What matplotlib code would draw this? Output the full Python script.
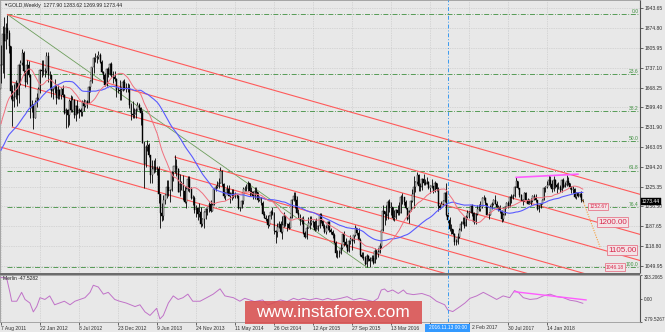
import numpy as np
import pandas as pd
import matplotlib
matplotlib.use("Agg")
import matplotlib.pyplot as plt
import matplotlib.transforms as mtransforms
from matplotlib.patches import Rectangle

plt.rcParams['font.family'] = ['Liberation Sans', 'DejaVu Sans']

# GOLD weekly bars, week of 7 Aug 2011 ... week of 17 Jun 2018 (bar 0 .. 358)
closes = [
    # 2011
    1745, 1852, 1828, 1876, 1856, 1813, 1657, 1622, 1635, 1683, 1642, 1745, 1753, 1788, 1724, 1687,
    1746, 1713, 1598, 1606, 1564,
    # 2012
    1617, 1631, 1663, 1728, 1725, 1725, 1725, 1776, 1710, 1712, 1656, 1662, 1669, 1631, 1660, 1642,
    1663, 1643, 1580, 1592, 1573, 1623, 1590, 1626, 1572, 1604, 1580, 1592, 1584, 1618, 1605, 1620,
    1616, 1671, 1692, 1740, 1771, 1773, 1774, 1780, 1758, 1722, 1711, 1676, 1731, 1714, 1751, 1712,
    1704, 1696, 1659, 1658, 1656,
    # 2013
    1661, 1688, 1664, 1668, 1667, 1608, 1578, 1572, 1576, 1592, 1606, 1597, 1581, 1477, 1405, 1462,
    1469, 1434, 1365, 1386, 1393, 1383, 1387, 1298, 1234, 1223, 1277, 1296, 1322, 1310, 1313, 1376,
    1395, 1396, 1386, 1308, 1333, 1337, 1310, 1272, 1315, 1351, 1315, 1287, 1287, 1244, 1250, 1230,
    1237, 1196, 1214, 1237,
    # 2014
    1247, 1254, 1264, 1240, 1262, 1318, 1323, 1326, 1338, 1379, 1335, 1294, 1303, 1318, 1294, 1300,
    1302, 1290, 1293, 1292, 1251, 1252, 1274, 1316, 1317, 1317, 1337, 1310, 1307, 1293, 1310, 1305,
    1280, 1287, 1268, 1229, 1216, 1214, 1192, 1222, 1238, 1231, 1171, 1169, 1185, 1197, 1167, 1191,
    1222, 1196, 1195, 1183,
    # 2015
    1216, 1277, 1293, 1279, 1234, 1228, 1205, 1213, 1165, 1152, 1183, 1199, 1200, 1207, 1203, 1175,
    1179, 1188, 1225, 1205, 1189, 1169, 1180, 1201, 1173, 1168, 1157, 1131, 1096, 1095, 1094, 1113,
    1160, 1134, 1121, 1103, 1138, 1145, 1137, 1156, 1182, 1163, 1141, 1088, 1081, 1076, 1057, 1086,
    1075, 1066, 1076, 1061,
    # 2016
    1102, 1090, 1097, 1118, 1174, 1239, 1230, 1222, 1271, 1250, 1254, 1217, 1221, 1243, 1235, 1232,
    1290, 1290, 1272, 1252, 1212, 1242, 1275, 1298, 1322, 1340, 1366, 1327, 1322, 1351, 1336, 1335,
    1341, 1320, 1326, 1328, 1310, 1339, 1315, 1257, 1251, 1266, 1275, 1304, 1225, 1209, 1178, 1177,
    1161, 1133, 1132, 1151,
    # 2017
    1173, 1197, 1204, 1190, 1220, 1234, 1238, 1257, 1234, 1202, 1229, 1248, 1249, 1254, 1287, 1284,
    1268, 1228, 1228, 1253, 1266, 1279, 1266, 1254, 1256, 1242, 1212, 1228, 1255, 1268, 1258, 1289,
    1285, 1291, 1325, 1346, 1320, 1297, 1280, 1275, 1304, 1280, 1266, 1269, 1275, 1294, 1287, 1280,
    1248, 1257, 1266, 1280, 1320,
    # 2018
    1322, 1332, 1349, 1333, 1315, 1347, 1330, 1323, 1323, 1313, 1347, 1325, 1332, 1345, 1336, 1323,
    1314, 1318, 1290, 1302, 1294, 1298, 1278, 1273.44,
]
highs = [
    1815, 1881, 1912, 1890, 1921, 1868, 1813, 1676, 1681, 1695, 1683, 1749, 1764, 1803, 1796, 1725,
    1763, 1761, 1716, 1625, 1612,
    1626, 1648, 1670, 1731, 1764, 1763, 1737, 1790, 1792, 1725, 1713, 1668, 1697, 1680, 1677, 1662,
    1667, 1677, 1647, 1597, 1595, 1628, 1641, 1640, 1628, 1607, 1625, 1598, 1599, 1625, 1627, 1624,
    1625, 1675, 1693, 1741, 1773, 1788, 1780, 1796, 1787, 1762, 1727, 1720, 1736, 1738, 1753, 1755,
    1724, 1724, 1700, 1671, 1694,
    1669, 1694, 1697, 1685, 1684, 1679, 1616, 1620, 1597, 1597, 1617, 1615, 1600, 1591, 1484, 1470,
    1488, 1477, 1435, 1416, 1418, 1424, 1397, 1397, 1297, 1268, 1297, 1298, 1348, 1347, 1317, 1380,
    1397, 1434, 1420, 1388, 1370, 1345, 1364, 1328, 1326, 1362, 1362, 1322, 1296, 1294, 1262, 1253,
    1268, 1255, 1216, 1239,
    1250, 1256, 1272, 1279, 1268, 1320, 1332, 1345, 1355, 1392, 1384, 1339, 1307, 1332, 1331, 1305,
    1315, 1315, 1306, 1298, 1295, 1256, 1277, 1325, 1326, 1333, 1345, 1339, 1325, 1310, 1322, 1322,
    1306, 1293, 1288, 1276, 1240, 1227, 1226, 1227, 1243, 1255, 1236, 1176, 1199, 1207, 1205, 1222,
    1238, 1225, 1200, 1201,
    1224, 1282, 1307, 1305, 1292, 1249, 1231, 1219, 1223, 1170, 1188, 1219, 1224, 1224, 1209, 1208,
    1215, 1193, 1232, 1232, 1210, 1196, 1192, 1205, 1205, 1180, 1175, 1165, 1135, 1104, 1105, 1126,
    1162, 1170, 1147, 1126, 1141, 1157, 1147, 1157, 1191, 1180, 1180, 1146, 1098, 1097, 1083, 1090,
    1088, 1080, 1088, 1087,
    1112, 1110, 1111, 1128, 1175, 1263, 1240, 1261, 1280, 1283, 1270, 1255, 1245, 1248, 1262, 1270,
    1296, 1304, 1279, 1280, 1252, 1244, 1277, 1316, 1362, 1345, 1375, 1369, 1338, 1354, 1367, 1352,
    1358, 1346, 1331, 1352, 1328, 1343, 1338, 1322, 1265, 1275, 1277, 1308, 1338, 1236, 1218, 1195,
    1178, 1165, 1142, 1163,
    1181, 1207, 1219, 1218, 1225, 1244, 1242, 1260, 1264, 1236, 1232, 1261, 1264, 1274, 1290, 1296,
    1290, 1268, 1236, 1263, 1270, 1282, 1296, 1276, 1261, 1260, 1244, 1235, 1257, 1270, 1274, 1292,
    1300, 1300, 1326, 1357, 1346, 1321, 1300, 1283, 1306, 1306, 1286, 1283, 1286, 1296, 1298, 1299,
    1278, 1260, 1268, 1283, 1322,
    1326, 1344, 1366, 1361, 1349, 1362, 1352, 1338, 1340, 1329, 1351, 1356, 1341, 1365, 1357, 1339,
    1326, 1326, 1320, 1307, 1308, 1303, 1309, 1283.62,
]
lows = [
    1683, 1720, 1702, 1801, 1838, 1787, 1628, 1535, 1600, 1630, 1603, 1616, 1676, 1746, 1713, 1670,
    1680, 1703, 1562, 1585, 1523,
    1562, 1602, 1625, 1648, 1705, 1710, 1703, 1720, 1688, 1664, 1634, 1627, 1650, 1612, 1628, 1627,
    1628, 1635, 1576, 1527, 1532, 1540, 1583, 1583, 1562, 1551, 1576, 1564, 1571, 1568, 1586, 1600,
    1598, 1614, 1653, 1685, 1720, 1755, 1752, 1768, 1752, 1720, 1696, 1672, 1672, 1706, 1710, 1704,
    1684, 1692, 1635, 1650, 1626,
    1626, 1655, 1660, 1651, 1654, 1597, 1554, 1563, 1562, 1563, 1589, 1590, 1539, 1476, 1321, 1394,
    1449, 1428, 1338, 1337, 1372, 1375, 1366, 1269, 1180, 1207, 1208, 1265, 1284, 1292, 1270, 1309,
    1346, 1371, 1361, 1306, 1292, 1312, 1277, 1267, 1251, 1309, 1305, 1281, 1261, 1232, 1221, 1211,
    1221, 1185, 1190, 1182,
    1212, 1225, 1236, 1238, 1239, 1260, 1309, 1320, 1321, 1338, 1326, 1287, 1277, 1298, 1291, 1268,
    1277, 1286, 1284, 1285, 1247, 1240, 1251, 1266, 1309, 1311, 1309, 1293, 1300, 1281, 1281, 1301,
    1273, 1275, 1262, 1228, 1216, 1207, 1183, 1190, 1213, 1228, 1161, 1131, 1150, 1180, 1163, 1142,
    1186, 1187, 1171, 1178,
    1180, 1215, 1275, 1251, 1232, 1216, 1191, 1194, 1162, 1147, 1142, 1181, 1178, 1191, 1185, 1170,
    1175, 1170, 1182, 1200, 1180, 1163, 1162, 1175, 1168, 1161, 1147, 1130, 1080, 1077, 1080, 1093,
    1109, 1118, 1117, 1098, 1098, 1125, 1104, 1128, 1155, 1158, 1140, 1084, 1077, 1071, 1052, 1046,
    1066, 1047, 1067, 1058,
    1061, 1073, 1080, 1096, 1111, 1171, 1191, 1208, 1214, 1236, 1226, 1210, 1207, 1212, 1226, 1228,
    1233, 1265, 1262, 1248, 1208, 1200, 1241, 1270, 1250, 1307, 1335, 1310, 1310, 1313, 1331, 1330,
    1334, 1318, 1302, 1320, 1302, 1306, 1309, 1241, 1247, 1253, 1262, 1271, 1224, 1200, 1172, 1160,
    1157, 1122, 1124, 1127,
    1146, 1172, 1195, 1180, 1189, 1215, 1217, 1232, 1224, 1195, 1196, 1227, 1240, 1240, 1250, 1277,
    1260, 1226, 1214, 1227, 1247, 1260, 1264, 1250, 1242, 1235, 1204, 1205, 1226, 1252, 1250, 1255,
    1267, 1281, 1288, 1324, 1315, 1289, 1276, 1261, 1274, 1278, 1264, 1264, 1263, 1272, 1278, 1272,
    1244, 1236, 1252, 1266, 1279,
    1307, 1319, 1332, 1323, 1307, 1310, 1321, 1302, 1316, 1307, 1306, 1321, 1322, 1326, 1330, 1316,
    1302, 1304, 1285, 1282, 1289, 1290, 1272, 1269.99,
]
first_open = 1663.0
# closes Aug 2010 - Jul 2011, only feed the moving averages
prev_closes = [
    1215, 1227, 1237, 1248, 1246, 1275, 1297, 1317, 1345, 1368, 1328, 1350, 1393, 1368, 1353, 1362,
    1405, 1385, 1376, 1380, 1421, 1369, 1360, 1342, 1341, 1349, 1361, 1389, 1409, 1429, 1421, 1417,
    1428, 1429, 1474, 1486, 1504, 1556, 1490, 1493, 1512, 1537, 1542, 1530, 1539, 1500, 1483, 1542,
    1594, 1601, 1624, 1663,
]

date_ticks = [0, 24, 48, 72, 96, 120, 144, 168, 192, 216, 240, 264, 288, 312, 336]
# labels at 264 and 288 are mostly hidden by the highlighted cursor time
date_labels = ["7 Aug 2011", "22 Jan 2012", "8 Jul 2012", "23 Dec 2012", "9 Jun 2013",
               "24 Nov 2013", "11 May 2014", "26 Oct 2014", "12 Apr 2015", "27 Sep 2015",
               "13 Mar 2016", "", "", "30 Jul 2017", "14 Jan 2018"]
partial_label = "2 Feb 2017"
price_ticks = [1943.65, 1874.80, 1805.95, 1737.10, 1668.25, 1599.40, 1531.90, 1463.05,
               1394.20, 1325.35, 1256.50, 1187.65, 1118.80, 1049.95]

fib_levels = [0.0, 23.6, 38.2, 50.0, 61.8, 76.4, 100.0]
fib_high, fib_high_bar = 1921.15, 4
fib_low, fib_low_bar = 1046.18, 225

# parallel red channel lines: start bar, start price, common slope ($ per week)
chan_bar = [4, 16, 7, 7, -1, 107]
chan_price = [1921, 1763, 1687, 1531, 1463, 1427]
chan_slope = -1.6

# Merlin oscillator (bar, value)
merlin_bar = [0, 3.5, 5.5, 6.6, 9.7, 12.7, 14.8, 17.8, 19.9, 22, 24, 27, 30, 33, 36, 39, 42.5,
              45.5, 48.6, 51.7, 54.8, 56.8, 59.9, 63, 66, 70, 73, 77, 82.5, 85.5, 88.6, 91.7,
              95.8, 97.8, 99.9, 103, 106, 109, 112, 115, 118, 122.5, 126.6, 130.6, 134.8, 137.8,
              143, 147, 150, 153, 156, 161, 164, 167, 172, 176, 180, 183, 186, 190, 194, 198,
              201, 204, 209, 213, 217, 221, 225, 229, 232, 234, 236, 238, 241, 244.5, 247.6,
              249.7, 253.7, 259, 264, 268, 273, 275, 278, 282.5, 285.5, 288.6, 292.7, 296.8,
              301, 305, 309, 313, 316, 318.3, 321.4, 325.5, 329.7, 333.7, 337.8, 342, 346, 350,
              354, 358]
merlin_val = [273, 264, 88, -22, -22, 88, 0, -44, -154, -88, 22, 0, 44, -66, -44, -22, -66,
              -22, 0, 22, 88, 176, 154, 66, 88, 0, -22, -44, -88, -66, -154, -198,
              -110, -242, -198, -44, 44, 0, 22, 66, -22, -22, 22, 66, 132, 44,
              22, -22, 14, -6, -27, -6, -69, -48, -6, -27, 14, -6, 14, -6, 14, -6,
              14, -6, 14, 35, -6, 14, -6, -27, 14, 117, 130, 95, 117, 74, 117,
              74, 60, 74, 40, -22, -66, -131, -150, -88, -44, 14, 44, 88,
              44, 0, 44, 22, 110, 88, 22, 0, 9, 44, 66, 35, 22, -9,
              -22, -47.53]

W, H = 665, 332
BG = '#e8e8e8'
GRID = '#c2c2c2'


def fy(py):
    return 1 - py / H


c = np.array(closes, dtype=float)
hi = np.array(highs, dtype=float)
lo = np.array(lows, dtype=float)
o = np.array([first_open] + closes[:-1], dtype=float)
x = np.arange(len(c))

allc = pd.Series(prev_closes + closes, dtype=float)
blue_ma = allc.rolling(45).mean().iloc[len(prev_closes):].values
red_ma = allc.rolling(20).mean().iloc[len(prev_closes):].values

fig = plt.figure(figsize=(W / 100, H / 100), dpi=100, facecolor=BG)
ax = fig.add_axes([0, fy(272.5), 640 / W, 272.5 / H], facecolor=BG)
ax2 = fig.add_axes([0, fy(322), 640 / W, 47 / H], facecolor=BG, sharex=ax)

xmin, xmax = -0.6, 393.2
ax.set_xlim(xmin, xmax)
ax.set_ylim(1943.65 - 264.5 / 0.2887, 1943.65 + 8 / 0.2887)
ax2.set_ylim(-279.5267, 303.2065)

for a in (ax, ax2):
    for s in a.spines.values():
        s.set_color('#9a9a9a')
        s.set_linewidth(0.6)
    a.spines['right'].set_color('#505050')
    a.spines['right'].set_linewidth(0.8)
    a.set_xticks(date_ticks)
    a.grid(True, axis='x', color=GRID, linestyle=(0, (1, 1.5)), linewidth=0.5)
    a.set_axisbelow(True)

ax.set_yticks(price_ticks)
ax.set_yticklabels(["%.2f" % p for p in price_ticks])
ax.yaxis.tick_right()
ax.tick_params(axis='y', length=2, width=0.5, pad=1.5, labelsize=3.6, colors='#303030')
ax.tick_params(axis='x', length=0, labelbottom=False)
ax.grid(True, axis='y', color=GRID, linestyle=(0, (1, 1.5)), linewidth=0.5)

ax2.yaxis.tick_right()
ax2.set_yticks([303.2065, 0, -279.5267])
ax2.set_yticklabels(["303.2065", "0.00", "-279.5267"])
ax2.tick_params(axis='y', length=1.5, width=0.5, pad=1, labelsize=3.4, colors='#303030')
ylabs = ax2.get_yticklabels()
ylabs[0].set_va('top')
ylabs[2].set_va('bottom')
ax2.set_xticklabels(date_labels)
ax2.tick_params(axis='x', length=2, width=0.5, pad=1, labelsize=3.6, colors='#303030')
for t in ax2.get_xticklabels():
    t.set_ha('left')

# fibonacci levels
fib_prices = [fib_high - lv / 100 * (fib_high - fib_low) for lv in fib_levels]
ax.hlines(fib_prices, fib_high_bar, xmax, color='#3f8f3f', linewidth=0.6,
          linestyle=(0, (6, 2, 1, 2)), zorder=1.5)
for lv, p in zip(fib_levels, fib_prices):
    ax.text(xmax - 0.8, p + 1, "%.1f" % lv, color='#3f8f3f', fontsize=3.6,
            ha='right', va='bottom', zorder=3)
ax.plot([fib_high_bar, fib_low_bar], [fib_high, fib_low], color='#6d9e5c', linewidth=0.6, zorder=2)

# red channel
for b0, p0 in zip(chan_bar, chan_price):
    ax.plot([b0, 420], [p0, p0 + chan_slope * (420 - b0)], color='#ff5a5a',
            linewidth=0.8, zorder=2)

# candles
up = c >= o
ax.vlines(x, lo, hi, color='black', linewidth=0.6, zorder=3)
ax.bar(x[up], (c - o)[up], bottom=o[up], width=0.6, color='white',
       edgecolor='black', linewidth=0.3, zorder=3.5)
ax.bar(x[~up], (o - c)[~up], bottom=c[~up], width=0.6, color='black',
       edgecolor='black', linewidth=0.3, zorder=3.5)

ax.plot(x, blue_ma, color='#5a5aff', linewidth=0.8, zorder=4)
ax.plot(x, red_ma, color='#f0707e', linewidth=0.7, zorder=4)

# extra drawings
ax.plot([317, 355], [1357, 1368], color='#ff5cff', linewidth=1.2, zorder=4)
ax.plot([358, 368.6], [1278, 1116], color='#f5a040', linewidth=0.8,
        linestyle=(0, (1, 1.2)), zorder=4)

box_small = dict(boxstyle='square,pad=0.25', fc='#f3e3e6', ec='#e8788a', lw=0.6)
box_big = dict(boxstyle='square,pad=0.15', fc='#f3e3e6', ec='#e8788a', lw=0.6)
ax.text(362, 1256, "1252.67", fontsize=3.6, color='#d8284c', ha='left', va='center',
        bbox=box_small, zorder=6)
ax.text(367.4, 1202, "1200.00", fontsize=5.8, color='#d8284c', ha='left', va='center',
        bbox=box_big, zorder=6)
ax.text(373.5, 1105, "1105.00", fontsize=5.8, color='#d8284c', ha='left', va='center',
        bbox=box_big, zorder=6)
ax.text(372.3, 1046.5, "1046.18", fontsize=3.6, color='#d8284c', ha='left', va='center',
        bbox=box_small, zorder=6)

# current price marker on the scale
tr = mtransforms.blended_transform_factory(ax.transAxes, ax.transData)
ax.text(1.003, c[-1], "%.2f" % c[-1], transform=tr, fontsize=3.6, color='white',
        ha='left', va='center', clip_on=False, zorder=7,
        bbox=dict(boxstyle='square,pad=0.2', fc='black', ec='black', lw=0.3))

# indicator window
ax2.plot(merlin_bar, merlin_val, color='#c072c8', linewidth=0.7, zorder=3)
ax2.plot([316, 360], [96, -6], color='#ff5cff', linewidth=1.0, zorder=4)
ax2.text(3 / 640, 0.97, "Merlin -47.5282", transform=ax2.transAxes, fontsize=3.6,
         color='#202020', ha='left', va='top')

for a in (ax, ax2):
    a.axvline(275, color='#3a9af0', linewidth=0.7, linestyle=(0, (4, 2, 1, 2)), zorder=5)

# separator between windows
fig.add_artist(Rectangle((0, fy(275.3)), 640 / W, 2.8 / H, transform=fig.transFigure,
                         fc='#6c6c6c', ec='none', zorder=2))

# header
fig.text(3 / W, fy(5.2), "\u25bc", fontsize=3.2, color='#202020', ha='left', va='center')
fig.text(8 / W, fy(5.2), "GOLD,Weekly  1277.90 1283.62 1269.99 1273.44", fontsize=3.7,
         color='#202020', ha='left', va='center')

# highlighted time label and the date that peeks out next to it
fig.add_artist(Rectangle((425 / W, fy(332)), 45 / W, 8 / H, transform=fig.transFigure,
                         fc='#3399ff', ec='none', zorder=5))
fig.text(447.5 / W, fy(327.8), "2016.11.13 00:00", fontsize=3.5, color='white',
         ha='center', va='center', zorder=6)
fig.text(472 / W, fy(327.8), partial_label, fontsize=3.6, color='#303030',
         ha='left', va='center')

# watermark
fig.add_artist(Rectangle((245 / W, fy(324)), 177 / W, 23 / H, transform=fig.transFigure,
                         fc='#d94c4c', alpha=0.85, ec='none', zorder=8))
fig.text(333 / W, fy(312.5), "www.instaforex.com", fontsize=12.4, color='white',
         ha='center', va='center', zorder=9)

fig.savefig("out.png", dpi=100, facecolor=BG)
